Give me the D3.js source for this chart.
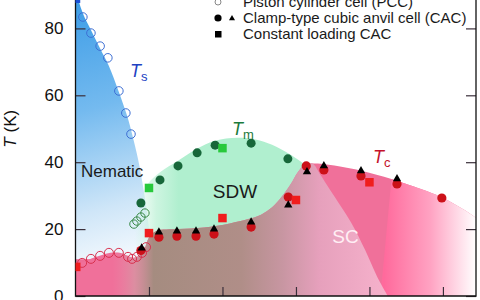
<!DOCTYPE html>
<html>
<head>
<meta charset="utf-8">
<script src="https://cdn.jsdelivr.net/npm/d3@7/dist/d3.min.js"></script>
<style>
  body { margin: 0; background: #fff; }
  svg { display: block; font-family: Arial, "Liberation Sans", Helvetica, sans-serif; }
</style>
</head>
<body>
<svg width="480" height="300"></svg>
<script>
  // pressure (GPa), temperature (K)
  const tsPcc  = [[0.20,83.4],[0.42,78.6],[0.67,74.7],[0.88,71.2],[1.18,61.3],[1.37,54.7],[1.51,48.4]];
  const tmPcc  = [[1.59,21.5],[1.67,22.4],[1.78,23.6],[1.89,24.8]];
  const tcPcc  = [[0.18,9.9],[0.42,11.1],[0.67,12.0],[0.91,12.9],[1.18,12.9],[1.43,11.7],[1.54,11.1],[1.67,11.7],[1.81,12.9],[1.92,14.6]];
  const tmCac  = [[1.78,27.8],[2.30,34.7],[2.79,38.9],[3.31,42.8],[3.80,45.1],[4.78,45.7],[5.78,41.0]];
  const tcCac  = [[1.78,13.6],[2.27,17.6],[2.76,17.9],[3.28,17.9],[3.77,18.5],[4.78,20.6],[5.79,29.6],[6.28,38.9],[6.76,37.7],[7.77,35.9],[8.75,33.5],[9.97,29.3]];
  const tcCacTri = [[1.80,14.3],[2.27,19.1],[2.76,19.4],[3.28,19.4],[3.77,20.0],[4.78,22.1],[5.79,27.2],[6.30,37.1],[6.76,38.9],[7.77,37.4],[8.75,35.0]];
  const tsConst = [[0.02,88.8]];
  const tmConst = [[2.0,32.3],[4.0,44.2]];
  const tcConst = [[0.02,8.7],[2.0,18.8],[4.0,23.3],[6.0,28.7],[8.0,34.0]];

  // phase boundaries
  const tsEdge = [[-0.1,101],[0.0,92],[0.2,84.5],[0.42,79.5],[0.67,74],[0.9,69],[1.18,61],[1.4,54],[1.55,48],[1.7,41],[1.85,32],[1.97,23],[2.05,14]];
  const tmEdge = [[1.5,17],[1.6,22],[1.72,27],[1.85,31],[2.0,34],[2.3,37],[2.8,40.5],[3.3,44],[3.8,46.4],[4.4,47.3],[4.9,46.8],[5.35,45.2],[5.8,42.6],[6.1,40.4],[6.3,38.8]];
  const tcEdge = [[-0.1,9.6],[0.2,10.1],[0.45,11.3],[0.7,12.2],[0.95,12.9],[1.2,12.9],[1.42,12],[1.58,11.4],[1.72,12],[1.87,14],[2.0,17.5],[2.2,19.4],[2.8,20],[3.5,20.5],[4.2,21.7],[4.7,23],[5.05,24.3],[5.35,26.5],[5.6,29.5],[5.85,33.3],[6.05,37],[6.25,39.4],[6.6,39.6],[7.2,38.7],[7.8,37.4],[8.6,35],[9.4,32],[10.0,29.4],[10.6,25.6],[11.0,22.5]];
  const scEdge = [[6.45,39.6],[6.65,36.5],[6.93,31.7],[7.5,22],[7.88,13.8],[8.2,6],[8.5,0]];

  const xTicks = [2, 4, 6, 8, 10];
  const yTicks = [0, 20, 40, 60, 80];

  const svg = d3.select("svg");
  const x = d3.scaleLinear().domain([0, 10.9]).range([75.5, 476]);
  const y = d3.scaleLinear().domain([0, 100]).range([296, -38.5]);

  const defs = svg.append("defs");
  defs.append("clipPath").attr("id", "plot")
    .append("rect").attr("x", x(0)).attr("y", y(100)).attr("width", x(10.9) - x(0)).attr("height", y(0) - y(100));

  function grad(id, x1, y1, x2, y2, stops) {
    const g = defs.append("linearGradient").attr("id", id)
      .attr("gradientUnits", "userSpaceOnUse")
      .attr("x1", x1).attr("y1", y1).attr("x2", x2).attr("y2", y2);
    stops.forEach(s => g.append("stop").attr("offset", s[0]).attr("stop-color", s[1]).attr("stop-opacity", s[2] == null ? 1 : s[2]));
  }
  grad("gBlue", x(0), y(90), x(2.1), y(8), [[0, "#3a9be6"], [0.4, "#74baef"], [0.75, "#cfe6f8"], [1, "#ffffff"]]);
  grad("gGreen", x(1.6), 0, x(2.8), 0, [[0, "#c8f4dc", 0], [0.5, "#c0f2d8", 0.8], [1, "#b0efcf"]]);
  grad("gPink", x(8.4), 0, x(10.9), 0, [[0, "#ff6a9c"], [0.5, "#ffa2c2"], [1, "#ffffff"]]);
  grad("gBrown", x(1.0), 0, x(8.5), 0, [[0, "#e88aa8", 0], [0.08, "#d49aa4", 0.7], [0.15, "#a58c80"], [0.47, "#b08e88"], [0.62, "#c896a2"], [0.75, "#e6a0bc"], [1, "#f6b2cc"]]);

  const curve = d3.line().x(d => x(d[0])).y(d => y(d[1])).curve(d3.curveCatmullRom);
  const region = (pts, close) => curve(pts) + close.map(p => "L" + x(p[0]) + "," + y(p[1])).join("") + "Z";

  const g = svg.append("g").attr("clip-path", "url(#plot)");

  g.append("path").attr("d", region(tsEdge, [[2.05, 10], [-0.1, 10]])).attr("fill", "url(#gBlue)");
  g.append("path").attr("d", region(tmEdge, [[6.3, 30], [5.5, 15], [1.9, 12]])).attr("fill", "url(#gGreen)");
  g.append("rect").attr("x", x(0)).attr("y", y(11)).attr("width", x(0.9) - x(0)).attr("height", y(0) - y(11)).attr("fill", "#ef6d97");
  g.append("path").attr("d", region(tcEdge, [[11, 0], [-0.1, 0]])).attr("fill", "#f0709a");
  g.append("path").attr("d", region(tcEdge.filter(d => d[0] > 8.3), [[11, 0], [8.3, 0]]) ).attr("fill", "url(#gPink)");
  g.append("path")
    .attr("d", region(tcEdge.filter(d => d[0] >= 0.95 && d[0] < 6.4).concat(scEdge), [[0.95, 0]]))
    .attr("fill", "url(#gBrown)");

  // axes
  svg.append("g").attr("transform", `translate(${x(0)},0)`)
    .call(d3.axisRight(y).tickValues(yTicks).tickSize(10).tickFormat(""))
    .call(a => a.select(".domain").remove());
  svg.append("g").attr("transform", `translate(${x(10.9)},0)`)
    .call(d3.axisLeft(y).tickValues(yTicks).tickSize(10).tickFormat(""))
    .call(a => a.select(".domain").remove());
  svg.append("g").attr("transform", `translate(0,${y(0)})`)
    .call(d3.axisTop(x).tickValues(xTicks).tickSize(9).tickFormat(""))
    .call(a => a.select(".domain").remove());
  svg.selectAll(".tick line").attr("stroke", "#3a2f3a").attr("stroke-width", 1.2);

  svg.append("g").attr("transform", `translate(${x(0) - 12},0)`)
    .call(d3.axisLeft(y).tickValues(yTicks).tickSize(0).tickPadding(0))
    .call(a => a.select(".domain").remove())
    .selectAll("text").attr("font-size", 17).attr("fill", "#111").attr("font-family", "Arial, Liberation Sans, sans-serif");

  svg.append("path").attr("fill", "none").attr("stroke", "#111").attr("stroke-width", 1.3)
    .attr("d", `M${x(0)},${y(100)}V${y(0)}H${x(10.9)}V${y(100)}`);

  svg.append("text").attr("transform", `translate(16,${y(50)}) rotate(-90)`)
    .attr("text-anchor", "middle").attr("font-size", 17).attr("fill", "#111")
    .call(t => { t.append("tspan").attr("font-style", "italic").text("T"); t.append("tspan").text(" (K)"); });

  // data points
  const pts = svg.append("g").attr("clip-path", "url(#plot)");
  const open = (data, color, r) => pts.selectAll(null).data(data).join("circle")
    .attr("cx", d => x(d[0])).attr("cy", d => y(d[1])).attr("r", r)
    .attr("fill", "none").attr("stroke", color).attr("stroke-width", 1);
  const dots = (data, color, r) => pts.selectAll(null).data(data).join("circle")
    .attr("cx", d => x(d[0])).attr("cy", d => y(d[1])).attr("r", r).attr("fill", color);
  const squares = (data, color, s) => pts.selectAll(null).data(data).join("rect")
    .attr("x", d => x(d[0]) - s / 2).attr("y", d => y(d[1]) - s / 2).attr("width", s).attr("height", s).attr("fill", color);

  open(tsPcc, "#3d6fd4", 4.3);
  open(tmPcc, "#3a8a48", 4.2);
  open(tcPcc, "#d8304e", 4.5);
  dots(tmCac, "#17673a", 4.5);
  dots(tcCac, "#cc1119", 4.6);
  pts.selectAll(null).data(tcCacTri).join("path")
    .attr("transform", d => `translate(${x(d[0])},${y(d[1])})`)
    .attr("d", d3.symbol(d3.symbolTriangle, 30)).attr("fill", "#000");
  squares(tsConst, "#1b4fd6", 8);
  squares(tmConst, "#28c93c", 8.5);
  squares(tcConst, "#f01d1d", 8.5);

  // labels
  svg.append("text").attr("x", x(0.15)).attr("y", y(35.5)).attr("font-size", 17).attr("fill", "#1a1a1a").text("Nematic");
  svg.append("text").attr("x", x(4.34)).attr("y", y(29.3)).attr("font-size", 19).attr("text-anchor", "middle").attr("fill", "#1a1a1a").text("SDW");
  svg.append("text").attr("x", x(7.35)).attr("y", y(15.8)).attr("font-size", 19).attr("text-anchor", "middle").attr("fill", "#ffeef4").text("SC");

  const sub = (p, t, main, s, color) => {
    const tx = svg.append("text").attr("x", x(p)).attr("y", y(t)).attr("fill", color).attr("font-size", 18);
    tx.append("tspan").attr("font-style", "italic").text(main);
    tx.append("tspan").attr("font-size", 13).attr("dy", 4).text(s);
  };
  sub(1.48, 65.5, "T", "s", "#2141c2");
  sub(4.26, 48.1, "T", "m", "#1b7a3c");
  sub(8.1, 39.8, "T", "c", "#c4122a");

  // legend
  const leg = svg.append("g").attr("font-size", 15).attr("fill", "#1a1a1a");
  const rows = ["Piston cylinder cell (PCC)", "Clamp-type cubic anvil cell (CAC)", "Constant loading CAC"];
  leg.selectAll("text").data(rows).join("text").attr("x", 243).attr("y", (d, i) => 7 + 16 * i).text(d => d);
  leg.append("circle").attr("cx", 218).attr("cy", 2).attr("r", 3).attr("fill", "none").attr("stroke", "#888");
  leg.append("circle").attr("cx", 218).attr("cy", 18).attr("r", 3.6).attr("fill", "#000");
  leg.append("path").attr("transform", "translate(232,18.5)").attr("d", d3.symbol(d3.symbolTriangle, 16)).attr("fill", "#000");
  leg.append("rect").attr("x", 215).attr("y", 31).attr("width", 6.5).attr("height", 6.5).attr("fill", "#000");
</script>
</body>
</html>
